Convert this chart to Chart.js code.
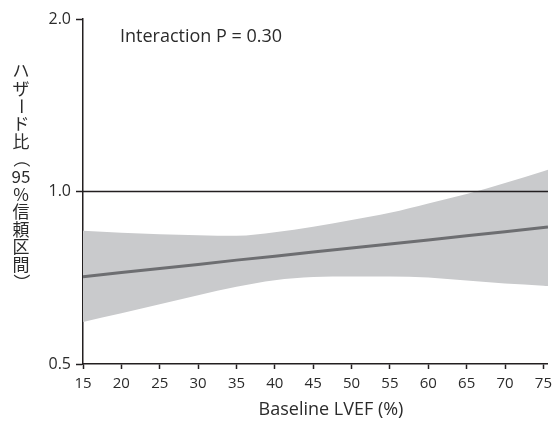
<!DOCTYPE html>
<html>
<head>
<meta charset="utf-8">
<script src="https://cdn.jsdelivr.net/npm/chart.js@4.4.1/dist/chart.umd.min.js"></script>
<style>
  body { margin: 0; background: #fff; }
  #wrap { width: 558px; height: 421px; position: relative; }
</style>
</head>
<body>
<div id="wrap"><canvas id="chart"></canvas></div>
<script>
// values
var lvef = [15, 20, 25, 30, 35, 40, 45, 50, 55, 60, 65, 70, 75, 75.6];
var hr = [0.710, 0.722, 0.734, 0.746, 0.759, 0.771, 0.784, 0.797, 0.810, 0.823, 0.837, 0.851, 0.865, 0.867];
var ciUpper = [0.854, 0.847, 0.842, 0.839, 0.837, 0.849, 0.868, 0.892, 0.918, 0.953, 0.990, 1.035, 1.085, 1.091];
var ciLower = [0.592, 0.613, 0.636, 0.659, 0.682, 0.700, 0.709, 0.711, 0.711, 0.708, 0.699, 0.691, 0.685, 0.684];
var refX = [15, 75.6];
var refY = [1.0, 1.0];
var xTicks = [15, 20, 25, 30, 35, 40, 45, 50, 55, 60, 65, 70, 75];
var yTicks = [0.5, 1.0, 2.0];

var xTitle = 'Baseline LVEF (%)';
var yTitle = ['ハ', 'ザ', 'ー', 'ド', '比', '（', '95', '%', '信', '頼', '区', '間', '）'];
var note = 'Interaction P = 0.30';

var textColor = '#2b2b2b';
var axisColor = '#231f20';
var latin = '"Open Sans", sans-serif';
var cjk = '"Noto Sans CJK JP", sans-serif';

function pts(xs, ys) {
    var out = [];
    for (var i = 0; i < xs.length; i++) {
        out.push({x: xs[i], y: ys[i]});
    }
    return out;
}

// texts that are not axis ticks
var textPlugin = {
    id: 'texts',
    afterDraw: function (chart) {
        var c = chart.ctx;
        c.save();
        c.fillStyle = textColor;

        c.font = '18px ' + latin;
        c.textAlign = 'left';
        c.textBaseline = 'middle';
        c.fillText(note, 120, 37);

        c.textAlign = 'center';
        c.fillText(xTitle, 331, 410);

        // vertical y title, one upright character per cell
        c.font = '17px ' + cjk;
        for (var i = 0; i < yTitle.length; i++) {
            var ch = yTitle[i];
            var y = 71 + i * 17.6;
            if (ch === 'ー' || ch === '（' || ch === '）') {
                c.save();
                c.translate(21, y);
                c.rotate(Math.PI / 2);
                c.fillText(ch, 0, 0);
                c.restore();
            } else {
                c.fillText(ch, 21, y);
            }
        }
        c.restore();
    }
};

var ctx = document.getElementById('chart').getContext('2d');
var chart = new Chart(ctx, {
    type: 'line',
    data: {
        datasets: [{
            label: 'upper',
            data: pts(lvef, ciUpper),
            fill: '+1',
            backgroundColor: '#c9cacc',
            borderWidth: 0,
            pointRadius: 0,
            cubicInterpolationMode: 'monotone',
            order: 3
        }, {
            label: 'lower',
            data: pts(lvef, ciLower),
            fill: false,
            borderWidth: 0,
            pointRadius: 0,
            cubicInterpolationMode: 'monotone',
            order: 3
        }, {
            label: 'ref',
            data: pts(refX, refY),
            fill: false,
            borderColor: axisColor,
            borderWidth: 1.5,
            pointRadius: 0,
            order: 1
        }, {
            label: 'hr',
            data: pts(lvef, hr),
            fill: false,
            borderColor: '#6d6e71',
            borderWidth: 3,
            pointRadius: 0,
            order: 2
        }]
    },
    options: {
        responsive: true,
        maintainAspectRatio: false,
        animation: false,
        layout: {padding: {top: 19, right: 4, left: 0, bottom: 0}},
        plugins: {
            legend: {display: false},
            tooltip: {enabled: false}
        },
        scales: {
            x: {
                type: 'linear',
                min: 15,
                max: 75.6,
                afterBuildTicks: function (s) {
                    s.ticks = xTicks.map(function (v) { return {value: v}; });
                },
                afterFit: function (s) { s.height = 57; },
                grid: {drawOnChartArea: false, drawTicks: true, tickLength: 5, color: axisColor, tickWidth: 1.5},
                border: {color: axisColor, width: 1.5},
                ticks: {
                    color: textColor,
                    font: {family: latin, size: 15},
                    padding: 6,
                    maxRotation: 0,
                    autoSkip: false
                }
            },
            y: {
                type: 'logarithmic',
                min: 0.5,
                max: 2.0,
                afterBuildTicks: function (s) {
                    s.ticks = yTicks.map(function (v) { return {value: v}; });
                },
                afterFit: function (s) { s.width = 83; },
                grid: {drawOnChartArea: false, drawTicks: true, tickLength: 7, color: axisColor, tickWidth: 1.5},
                border: {color: axisColor, width: 1.5},
                ticks: {
                    color: textColor,
                    font: {family: latin, size: 16},
                    padding: 5,
                    callback: function (v) { return Number(v).toFixed(1); }
                }
            }
        }
    },
    plugins: [textPlugin]
});
</script>
</body>
</html>
